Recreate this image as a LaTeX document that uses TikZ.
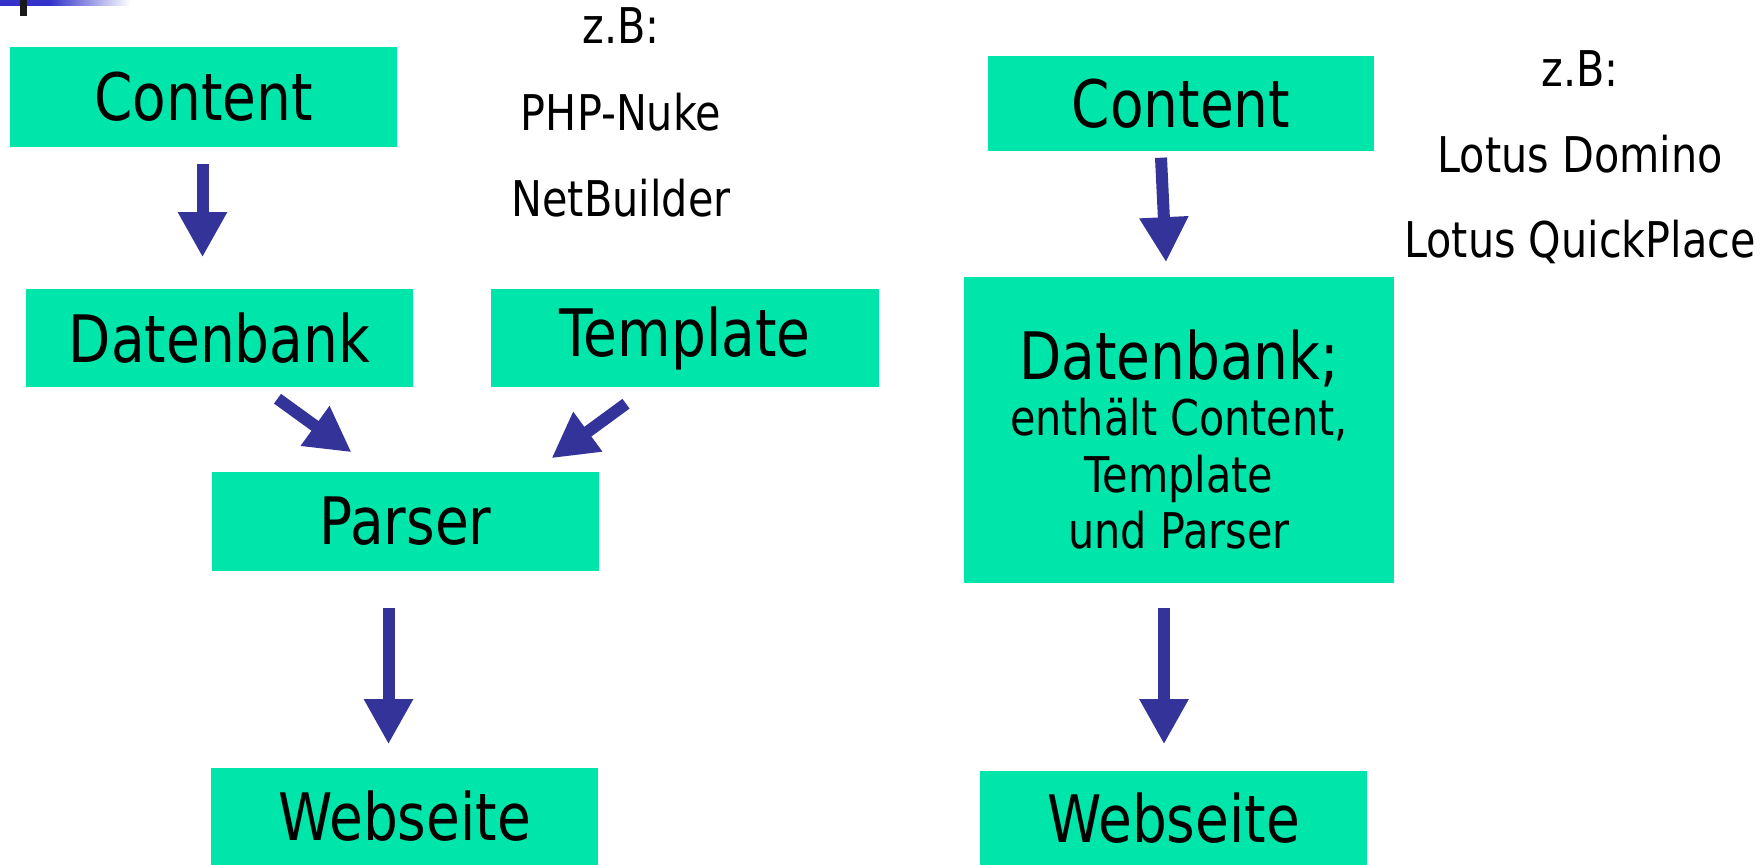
\documentclass[tikz,border=0pt]{standalone}
\usepackage{fontspec}
\setmainfont{DejaVu Sans}[FakeStretch=0.84]
\usetikzlibrary{arrows.meta,calc}

\definecolor{boxgreen}{HTML}{00E5AA}
\definecolor{arrowblue}{HTML}{333399}
\definecolor{barblue}{HTML}{3333CC}

\tikzset{
	box/.style={fill=boxgreen, inner sep=0pt, minimum width=3.87cm, minimum height=0.98cm,
		font=\fontsize{18.6}{22}\selectfont},
	note/.style={anchor=base, inner sep=0pt, font=\fontsize{14}{17}\selectfont},
	blockarrow/.style={draw=arrowblue, line width=0.12cm,
		-{Triangle[length=0.45cm,width=0.46cm]}}
}

\begin{document}
\begin{tikzpicture}[x=0.01cm,y=-0.01cm]
	\useasboundingbox (0,0) rectangle (1764,865);

	% corner mark
	\fill[barblue] (0,0) rectangle (50,6);
	\shade[left color=barblue, right color=white] (50,0) rectangle (130,6);
	\fill[black!90] (20,0) rectangle (27,16);

	% left: separate parser
	\node[box, minimum height=1cm] (c1) at (203.5,97) {Content};
	\node[box] (d1) at (219.5,338) {Datenbank};
	\node[box] (t1) at (685,338) {Template};
	\node[box, minimum height=0.99cm] (p1) at (405.5,521.5) {Parser};
	\node[box, minimum height=0.97cm] (w1) at (404.5,816.5) {Webseite};

	\node[note] (zb1) at (621,44) {z.B:};
	\node[note] (php) at (621,131) {PHP-Nuke};
	\node[note] (nb) at (621,217) {NetBuilder};

	\draw[blockarrow] ($(c1.south)+(-1,16)$) -- ($(c1.south |- d1.north)+(-1,-31)$);
	\draw[blockarrow] ($(d1.south)+(58,11)$) -- ($(p1.north)+(-54,-19)$);
	\draw[blockarrow] ($(t1.south)+(-59,16)$) -- ($(p1.north)+(146,-13)$);
	\draw[blockarrow] ($(p1.south)+(-17,36)$) -- ($(w1.north)+(-16,-23)$);

	% right: all in the database
	\node[box, minimum width=3.86cm, minimum height=0.95cm] (c2) at (1181,103.5) {Content};
	\node[box, minimum width=4.3cm, minimum height=3.06cm, align=center,
		font=\fontsize{14}{16}\selectfont] (d2) at (1179,430)
		{\rule{0pt}{19.5pt}{\fontsize{18.6}{22}\selectfont Datenbank;}\\enthält Content,\\Template\\ und Parser};
	\node[box, minimum height=0.94cm] (w2) at (1173.5,818) {Webseite};

	\node[note] (zb2) at (1580,87) {z.B:};
	\node[note] (dom) at (1580,173) {Lotus Domino};
	\node[note] (qp) at (1580,258) {Lotus QuickPlace};

	\draw[blockarrow] ($(c2.south)+(-20,6)$) -- ($(d2.north)+(-13,-14)$);
	\draw[blockarrow] ($(d2.south)+(-15,24)$) -- ($(w2.north)+(-9.5,-26)$);
\end{tikzpicture}
\end{document}
